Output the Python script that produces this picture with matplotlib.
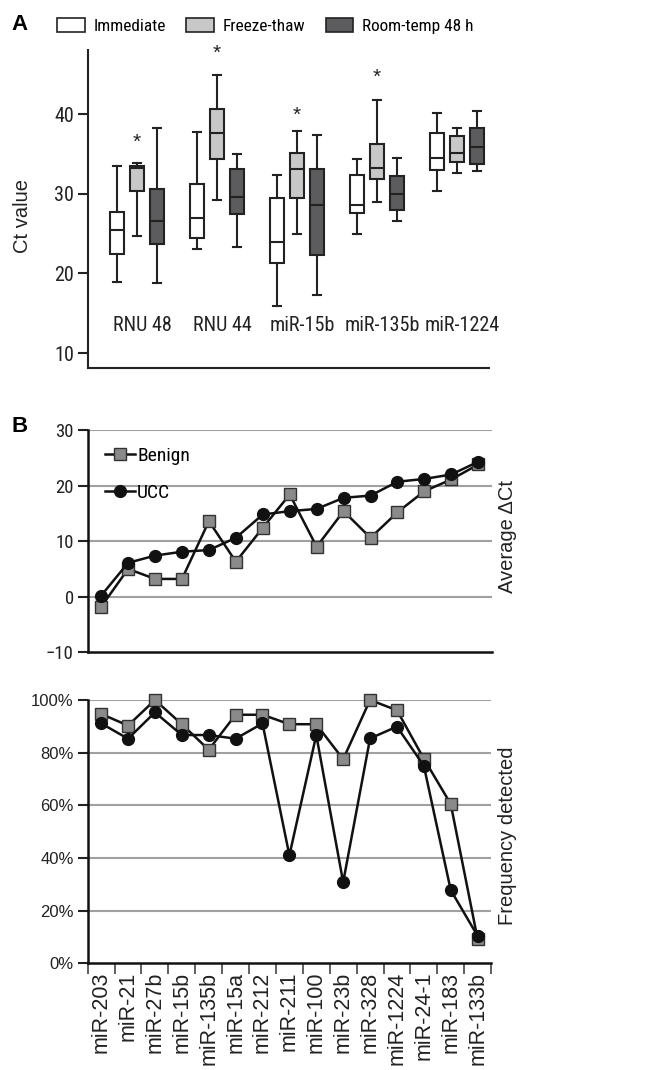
# -*- coding: utf-8 -*-
import numpy as np
import matplotlib
matplotlib.use("Agg")
import matplotlib.pyplot as plt
from matplotlib.patches import Patch
from matplotlib.ticker import PercentFormatter

NARROW = ['Liberation Sans Narrow', 'Roboto Condensed', 'DejaVu Sans']
REG = ['Liberation Sans', 'DejaVu Sans']
plt.rcParams['font.family'] = REG

# panel A data (Ct values per target)
targets = ['RNU 48', 'RNU 44', 'miR-15b', 'miR-135b', 'miR-1224']
conditions = ['Immediate', 'Freeze-thaw', 'Room-temp 48 h']
cond_colors = ['#ffffff', '#c8c8c8', '#5c5c5e']

imm_whislo = [18.9, 23.1, 15.9, 24.9, 30.3]
imm_q1 = [22.4, 24.4, 21.3, 27.6, 33.0]
imm_med = [25.4, 27.0, 23.9, 28.6, 34.5]
imm_q3 = [27.7, 31.2, 29.5, 32.4, 37.6]
imm_whishi = [33.5, 37.7, 32.3, 34.4, 40.1]

ft_whislo = [24.7, 29.2, 24.9, 29.0, 32.6]
ft_q1 = [30.4, 34.3, 29.5, 31.9, 34.0]
ft_med = [33.2, 37.6, 33.1, 33.2, 35.1]
ft_q3 = [33.5, 40.6, 35.1, 36.3, 37.2]
ft_whishi = [33.9, 44.9, 37.9, 41.8, 38.2]

rt_whislo = [18.8, 23.3, 17.3, 26.6, 32.8]
rt_q1 = [23.7, 27.4, 22.3, 28.0, 33.7]
rt_med = [26.6, 29.6, 28.6, 30.0, 35.9]
rt_q3 = [30.6, 33.1, 33.1, 32.2, 38.3]
rt_whishi = [38.3, 35.0, 37.4, 34.5, 40.4]

# significance stars above freeze-thaw boxes
star_y = [36.5, 47.6, 39.9, 44.6, None]

# panel B data
mirnas = ['miR-203', 'miR-21', 'miR-27b', 'miR-15b', 'miR-135b', 'miR-15a',
          'miR-212', 'miR-211', 'miR-100', 'miR-23b', 'miR-328', 'miR-1224',
          'miR-24-1', 'miR-183', 'miR-133b']
benign_dct = [-1.8, 5.0, 3.2, 3.2, 13.6, 6.3, 12.4, 18.4, 9.0, 15.4, 10.6,
              15.2, 19.0, 21.1, 23.8]
ucc_dct = [0.2, 6.1, 7.4, 8.1, 8.4, 10.6, 14.8, 15.4, 15.8, 17.8, 18.2,
           20.7, 21.2, 22.0, 24.3]
benign_freq = [94.7, 90.3, 100, 90.8, 81.1, 94.4, 94.4, 90.8, 90.8, 77.5,
               100, 96.1, 77.7, 60.5, 9.2]
ucc_freq = [91.1, 85.3, 95.3, 86.7, 86.7, 85.3, 91.1, 41.0, 86.7, 30.8,
            85.4, 89.9, 75.0, 27.8, 10.4]

fig = plt.figure(figsize=(6.58, 10.7), dpi=100)

# ---------------- panel A ----------------
axA = fig.add_axes([0.1333, 0.656, 0.610, 0.297])
groups = [
    (imm_whislo, imm_q1, imm_med, imm_q3, imm_whishi),
    (ft_whislo, ft_q1, ft_med, ft_q3, ft_whishi),
    (rt_whislo, rt_q1, rt_med, rt_q3, rt_whishi),
]
edge = '#222222'
for c, (wl, q1, md, q3, wh) in enumerate(groups):
    stats = []
    for i in range(len(targets)):
        stats.append({'whislo': wl[i], 'q1': q1[i], 'med': md[i],
                      'q3': q3[i], 'whishi': wh[i], 'fliers': []})
    pos = np.arange(len(targets)) + (c - 1) * 0.25
    axA.bxp(stats, positions=pos, widths=0.175, capwidths=0.11,
            patch_artist=True, showfliers=False,
            boxprops=dict(facecolor=cond_colors[c], edgecolor=edge, linewidth=1.5),
            medianprops=dict(color=edge, linewidth=1.5),
            whiskerprops=dict(color=edge, linewidth=1.5),
            capprops=dict(color=edge, linewidth=1.5))

for i, s in enumerate(star_y):
    if s is not None:
        axA.text(i, s, '*', ha='center', va='center', fontsize=15,
                 family=REG, color='#222222')

for i, t in enumerate(targets):
    axA.text(i + 0.07, 13.5, t, ha='center', va='center', fontsize=14.5,
             family=NARROW, color='#222222')

axA.set_xlim(-0.616, 4.4)
axA.set_ylim(8.13, 48.0)
axA.set_yticks([10, 20, 30, 40])
axA.set_xticks([])
for sp in ['top', 'right']:
    axA.spines[sp].set_visible(False)
for sp in ['left', 'bottom']:
    axA.spines[sp].set_linewidth(1.5)
    axA.spines[sp].set_color('#222222')
axA.tick_params(axis='y', length=7, width=1.5, labelsize=14.5, pad=3,
                colors='#222222')
for lab in axA.get_yticklabels():
    lab.set_family(NARROW)
axA.text(-0.163, 0.48, 'Ct value', transform=axA.transAxes, rotation=90,
         ha='center', va='center', fontsize=14.5, color='#222222')

handles = [Patch(facecolor=cond_colors[k], edgecolor=edge, linewidth=1.2)
           for k in range(3)]
fig.legend(handles, conditions, loc='center left',
           bbox_to_anchor=(57 / 658, 1 - 25.7 / 1070), ncol=3, frameon=False,
           borderpad=0, borderaxespad=0, handlelength=1.6, handleheight=0.9,
           handletextpad=0.5, columnspacing=1.2,
           prop={'family': NARROW, 'size': 12.4})

fig.text(20 / 658, 1 - 25 / 1070, 'A', fontsize=16, fontweight='bold',
         ha='center', va='center')
fig.text(20 / 658, 1 - 427 / 1070, 'B', fontsize=16, fontweight='bold',
         ha='center', va='center')

# ---------------- panel B upper ----------------
x = np.arange(len(mirnas))
grid_c = '#a0a0a0'
axB = fig.add_axes([0.1333, 0.3904, 0.614, 0.2077])
axB.plot(x, benign_dct, color='#111111', lw=1.8, marker='s', ms=8,
         mfc='#8a8a8a', mec='#333333', mew=1.0, clip_on=False, zorder=3,
         label='Benign')
axB.plot(x, ucc_dct, color='#111111', lw=1.8, marker='o', ms=8.5,
         mfc='#111111', mec='#111111', clip_on=False, zorder=4, label='UCC')
axB.set_xlim(-0.5, 14.5)
axB.set_ylim(-10, 30)
axB.set_yticks([-10, 0, 10, 20, 30])
axB.set_xticks([])
for g in [0, 10, 20, 30]:
    axB.axhline(g, color=grid_c, lw=1.5, zorder=1)
for sp in ['top', 'right']:
    axB.spines[sp].set_visible(False)
for sp in ['left', 'bottom']:
    axB.spines[sp].set_linewidth(1.8)
    axB.spines[sp].set_color('#111111')
axB.tick_params(axis='y', length=7, width=1.5, labelsize=13.5, pad=3,
                colors='#222222')
for lab in axB.get_yticklabels():
    lab.set_family(NARROW)
axB.text(1.04, 0.52, 'Average \u0394Ct', transform=axB.transAxes, rotation=90,
         ha='center', va='center', fontsize=14.5, color='#222222')
axB.legend(loc='center left', bbox_to_anchor=(0.043, 0.80), frameon=False,
           borderpad=0, borderaxespad=0, handlelength=1.55, handletextpad=0.1,
           labelspacing=1.0, prop={'family': NARROW, 'size': 14})

# ---------------- panel B lower ----------------
axC = fig.add_axes([0.1333, 0.0997, 0.613, 0.2461])
axC.plot(x, benign_freq, color='#111111', lw=1.8, marker='s', ms=8,
         mfc='#8a8a8a', mec='#333333', mew=1.0, clip_on=False, zorder=3)
axC.plot(x, ucc_freq, color='#111111', lw=1.8, marker='o', ms=8.5,
         mfc='#111111', mec='#111111', clip_on=False, zorder=4)
axC.set_xlim(-0.5, 14.5)
axC.set_ylim(0, 100)
axC.set_yticks([0, 20, 40, 60, 80, 100])
axC.yaxis.set_major_formatter(PercentFormatter(decimals=0))
for g in [20, 40, 60, 80, 100]:
    axC.axhline(g, color=grid_c, lw=1.5, zorder=1)
axC.set_xticks(x)
axC.set_xticklabels(mirnas, rotation=90, fontsize=15.5, color='#222222')
axC.set_xticks(np.arange(-0.5, 15, 1), minor=True)
axC.tick_params(axis='x', which='major', length=0, pad=6)
axC.tick_params(axis='x', which='minor', length=8, width=1.2, color='#444444')
for sp in ['top', 'right']:
    axC.spines[sp].set_visible(False)
for sp in ['left', 'bottom']:
    axC.spines[sp].set_linewidth(1.8)
    axC.spines[sp].set_color('#111111')
axC.tick_params(axis='y', length=7, width=1.5, labelsize=12, pad=3,
                colors='#222222')
axC.text(1.04, 0.483, 'Frequency detected', transform=axC.transAxes,
         rotation=90, ha='center', va='center', fontsize=14.5, color='#222222')

fig.savefig('out.png', dpi=100)
